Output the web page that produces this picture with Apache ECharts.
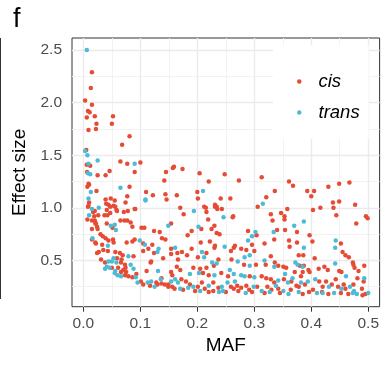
<!DOCTYPE html>
<html>
<head>
<meta charset="utf-8">
<script src="https://cdn.jsdelivr.net/npm/echarts@6/dist/echarts.min.js"></script>
<style>
  html, body { margin: 0; padding: 0; background: #fff; }
  #chart { width: 382px; height: 365px; }
</style>
</head>
<body>
<div id="chart"></div>
<script>
// [MAF, effect size]
var cisPoints = [
  [0.015,2.29],[0.013,2.14],[0.003,2.02],[0.015,1.98],[0.008,1.92],[0.011,1.91],[0.006,1.86],[0.020,1.87],
  [0.052,1.87],[0.023,1.80],[0.050,1.80],[0.009,1.74],[0.022,1.75],[0.081,1.68],[0.068,1.60],[0.005,1.55],
  [0.065,1.44],[0.077,1.42],[0.006,1.41],[0.012,1.40],[0.046,1.35],[0.0065,1.34],[0.025,1.31],[0.039,1.31],
  [0.009,1.23],[0.010,1.22],[0.007,1.20],[0.023,1.16],[0.077,1.11],[0.048,1.09],[0.039,1.08],[0.055,1.07],
  [0.010,1.05],[0.074,1.05],[0.044,1.03],[0.053,1.02],[0.041,0.98],[0.058,0.98],[0.008,1.01],[0.017,0.96],
  [0.071,0.96],[0.047,0.95],[0.019,0.92],[0.037,0.93],[0.020,0.88],[0.022,0.85],[0.007,0.89],[0.025,0.80],
  [0.051,0.81],[0.065,0.88],[0.077,0.88],
  [0.009,1.02],[0.040,1.04],[0.047,1.01],[0.056,1.01],[0.146,1.08],[0.020,0.97],[0.026,0.93],[0.042,0.93],
  [0.059,0.97],[0.078,0.97],[0.090,0.99],[0.015,0.88],[0.021,0.85],[0.041,0.85],[0.072,0.88],[0.083,0.86],
  [0.086,0.82],[0.015,0.80],[0.024,0.82],[0.102,0.81],[0.107,0.81],[0.154,0.85],[0.030,0.75],[0.034,0.73],
  [0.039,0.71],[0.124,0.78],[0.134,0.77],[0.015,0.70],[0.021,0.67],[0.044,0.69],[0.052,0.70],[0.076,0.67],
  [0.086,0.68],[0.090,0.70],[0.138,0.71],[0.144,0.70],[0.022,0.66],[0.033,0.65],[0.053,0.67],[0.121,0.65],
  [0.105,0.66],[0.114,0.61],[0.105,0.59],[0.124,0.57],[0.154,0.61],[0.035,0.60],[0.027,0.58],[0.024,0.57],
  [0.043,0.59],[0.056,0.58],[0.064,0.57],[0.069,0.55],[0.059,0.52],[0.067,0.51],[0.088,0.54],[0.119,0.49],
  [0.118,0.48],[0.140,0.52],[0.154,0.56],[0.031,0.51],[0.038,0.48],[0.066,0.48],[0.073,0.46],[0.050,0.43],
  [0.061,0.43],[0.070,0.41],[0.074,0.43],[0.111,0.40],[0.154,0.39],[0.066,0.39],[0.073,0.36],[0.075,0.39],
  [0.079,0.35],[0.093,0.37],[0.086,0.34],[0.101,0.30],[0.128,0.29],[0.130,0.27],[0.137,0.28],[0.143,0.27],
  [0.149,0.27],[0.137,0.33],[0.156,0.36],[0.149,0.25],[0.156,0.25],
  [0.100,1.43],[0.090,1.34],[0.159,1.39],[0.157,1.38],[0.174,1.37],[0.145,1.34],[0.204,1.33],[0.248,1.32],
  [0.142,1.26],[0.220,1.25],[0.273,1.26],[0.081,1.20],[0.110,1.15],[0.122,1.12],[0.144,1.13],[0.164,1.12],
  [0.200,1.15],[0.201,1.09],[0.241,1.09],[0.258,1.09],[0.215,1.00],[0.231,1.01],[0.170,1.00],[0.176,0.94],
  [0.091,0.99],[0.216,0.96],[0.235,0.99],[0.243,0.99],[0.262,0.91],[0.306,1.01],
  [0.212,1.01],[0.231,1.03],[0.234,1.01],[0.219,0.89],[0.263,0.92],[0.329,0.94],[0.332,0.88],[0.230,0.83],
  [0.225,0.80],[0.190,0.78],[0.183,0.74],[0.207,0.80],[0.234,0.76],[0.239,0.75],[0.304,0.74],[0.289,0.78],
  [0.296,0.65],[0.318,0.66],[0.335,0.70],[0.340,0.79],[0.206,0.67],[0.222,0.68],[0.231,0.64],[0.230,0.62],
  [0.259,0.59],[0.264,0.62],[0.266,0.64],[0.277,0.61],[0.286,0.60],[0.300,0.59],[0.190,0.61],[0.173,0.58],
  [0.165,0.57],[0.182,0.55],[0.216,0.57],[0.201,0.53],[0.237,0.51],[0.229,0.45],[0.260,0.51],[0.282,0.46],
  [0.303,0.46],[0.329,0.54],[0.320,0.46],[0.336,0.48],[0.166,0.51],[0.164,0.44],[0.170,0.41],[0.193,0.43],
  [0.205,0.42],[0.216,0.43],[0.210,0.38],[0.220,0.36],[0.242,0.38],[0.254,0.35],[0.292,0.35],[0.313,0.35],
  [0.321,0.33],[0.329,0.32],[0.172,0.32],[0.180,0.30],[0.187,0.27],[0.201,0.25],[0.208,0.29],[0.213,0.23],
  [0.228,0.29],[0.237,0.24],[0.259,0.25],[0.270,0.26],[0.277,0.24],[0.286,0.26],[0.291,0.22],[0.305,0.25],
  [0.323,0.25],[0.330,0.22],[0.335,0.29],[0.228,0.21],[0.264,0.23],
  [0.313,1.29],[0.361,1.25],[0.368,1.21],[0.336,1.16],[0.393,1.16],[0.405,1.16],[0.400,1.11],[0.430,1.20],
  [0.449,1.23],[0.467,1.24],[0.321,1.10],
  [0.358,0.99],[0.347,0.95],[0.353,0.92],[0.353,0.89],[0.354,0.79],[0.375,0.77],[0.403,0.98],[0.416,1.00],
  [0.438,1.05],[0.439,1.00],[0.449,1.06],[0.444,0.93],[0.477,1.03],[0.479,0.85],[0.496,0.92],[0.499,0.90],
  [0.397,0.74],[0.402,0.68],[0.361,0.69],[0.362,0.63],[0.375,0.67],[0.378,0.55],[0.386,0.55],[0.452,0.66],
  [0.455,0.58],[0.460,0.55],[0.466,0.53],[0.406,0.52],[0.473,0.48],[0.474,0.46],[0.493,0.45],[0.476,0.43],
  [0.483,0.40],[0.481,0.33],[0.492,0.30],[0.342,0.45],[0.351,0.44],[0.356,0.43],[0.380,0.45],[0.387,0.45],
  [0.395,0.41],[0.397,0.39],[0.413,0.42],[0.423,0.44],[0.429,0.41],[0.449,0.40],[0.453,0.39],[0.371,0.39],
  [0.382,0.35],[0.385,0.39],[0.352,0.32],[0.365,0.30],[0.374,0.26],[0.378,0.25],[0.389,0.27],[0.414,0.30],
  [0.420,0.25],[0.426,0.30],[0.436,0.27],[0.443,0.32],[0.447,0.25],[0.457,0.27],[0.460,0.23],[0.474,0.27],
  [0.489,0.23],[0.495,0.18],[0.490,0.17],[0.364,0.22],[0.396,0.20],[0.419,0.20],[0.452,0.19],[0.403,0.22],
  [0.342,0.23],
  [0.105,0.27],[0.117,0.26],[0.160,0.23],[0.175,0.22],[0.196,0.21],[0.220,0.20],[0.250,0.20],[0.272,0.21],
  [0.296,0.20],[0.318,0.19],[0.345,0.19],[0.385,0.18],[0.430,0.18],[0.465,0.18]
];
var transPoints = [
  [0.006,2.50],[0.003,1.54],[0.007,1.50],[0.025,1.45],[0.009,1.42],[0.008,1.33],[0.012,1.32],[0.065,1.19],
  [0.013,1.15],[0.009,1.09],[0.015,0.99],[0.055,0.84],[0.057,0.79],
  [0.027,1.00],[0.109,1.08],[0.010,0.93],[0.048,0.83],[0.149,0.83],[0.016,0.71],[0.099,0.69],[0.043,0.64],
  [0.108,0.65],[0.132,0.61],[0.130,0.58],[0.053,0.52],[0.079,0.54],[0.044,0.49],[0.050,0.49],[0.058,0.48],
  [0.083,0.46],[0.041,0.44],[0.046,0.43],[0.038,0.42],[0.088,0.42],[0.131,0.40],[0.056,0.40],[0.055,0.38],
  [0.060,0.36],[0.066,0.35],[0.092,0.34],[0.095,0.29],[0.113,0.29],[0.119,0.30],[0.136,0.32],[0.154,0.30],
  [0.090,1.42],[0.210,1.16],[0.109,1.07],[0.194,0.97],[0.246,0.91],
  [0.315,1.04],[0.202,0.82],[0.302,0.77],[0.296,0.73],[0.289,0.69],[0.334,0.77],[0.248,0.63],[0.292,0.55],
  [0.161,0.62],[0.208,0.58],[0.212,0.53],[0.226,0.48],[0.234,0.47],[0.271,0.49],[0.283,0.53],[0.292,0.45],
  [0.318,0.50],[0.335,0.44],[0.187,0.37],[0.203,0.38],[0.230,0.36],[0.257,0.41],[0.264,0.37],[0.277,0.36],
  [0.283,0.35],[0.300,0.34],[0.161,0.32],[0.166,0.29],[0.184,0.24],[0.193,0.25],[0.220,0.26],[0.243,0.25],
  [0.253,0.29],[0.266,0.30],[0.299,0.25],[0.313,0.21],[0.338,0.26],[0.245,0.21],
  [0.370,0.83],[0.387,0.87],[0.387,0.62],[0.443,0.69],[0.442,0.62],[0.493,0.33],[0.372,0.48],[0.376,0.46],
  [0.385,0.44],[0.442,0.47],[0.461,0.35],[0.354,0.37],[0.342,0.31],[0.359,0.29],[0.367,0.33],[0.382,0.29],
  [0.394,0.30],[0.407,0.32],[0.431,0.25],[0.453,0.23],[0.468,0.25],[0.475,0.21],[0.351,0.21],[0.378,0.20],
  [0.410,0.19],[0.440,0.19],[0.473,0.19],
  [0.125,0.25],[0.170,0.23],[0.205,0.21],[0.238,0.20],[0.285,0.19],[0.327,0.20],[0.360,0.18],[0.420,0.19],
  [0.480,0.18],[0.500,0.19]
];

var xTicks = [0, 0.1, 0.2, 0.3, 0.4, 0.5];
var xMinor = [0.05, 0.15, 0.25, 0.35, 0.45];
var yTicks = [0.5, 1.0, 1.5, 2.0, 2.5];
var yMinor = [0.25, 0.75, 1.25, 1.75, 2.25];

var FONT = '"Liberation Sans", Arial, Helvetica, sans-serif';
var majorLine = { color: '#ebebeb', width: 1.4, type: 'solid' };
var minorLine = { color: '#f1f1f1', width: 0.9, type: 'solid' };

var gridLines = [];
xMinor.forEach(function(v) { gridLines.push({ xAxis: v, lineStyle: minorLine }); });
yMinor.forEach(function(v) { gridLines.push({ yAxis: v, lineStyle: minorLine }); });
xTicks.forEach(function(v) { gridLines.push({ xAxis: v, lineStyle: majorLine }); });
yTicks.forEach(function(v) { gridLines.push({ yAxis: v, lineStyle: majorLine }); });

var chart = echarts.init(document.getElementById('chart'), null, { renderer: 'canvas' });
chart.setOption({
  animation: false,
  backgroundColor: '#fff',
  textStyle: { fontFamily: FONT },
  grid: {
    left: 72, top: 38, right: 0, bottom: 58.3,
    show: true, backgroundColor: '#fff', borderColor: '#333', borderWidth: 1
  },
  legend: {
    data: ['cis', 'trans'],
    orient: 'vertical',
    left: 273, top: 45,
    padding: [27, 9, 17, 24],
    backgroundColor: '#fff',
    icon: 'circle',
    itemWidth: 4.5, itemHeight: 4.5,
    itemGap: 12,
    selectedMode: false,
    textStyle: { fontFamily: FONT, fontStyle: 'italic', fontSize: 18.5, color: '#000', padding: [0, 0, 0, 12] }
  },
  xAxis: {
    type: 'value', min: -0.02, max: 0.52,
    name: 'MAF', nameLocation: 'middle', nameGap: 29,
    nameTextStyle: { fontFamily: FONT, fontSize: 19, color: '#000' },
    axisLine: { show: false },
    axisTick: { show: true, length: 5, customValues: xTicks, lineStyle: { color: '#333', width: 1 } },
    axisLabel: {
      customValues: xTicks, margin: 9, fontFamily: FONT, fontSize: 15.5, color: '#4d4d4d',
      formatter: function(v) { return v.toFixed(1); }
    },
    splitLine: { show: false }
  },
  yAxis: {
    type: 'value', min: 0.06, max: 2.615,
    name: 'Effect size', nameLocation: 'middle', nameGap: 36, nameRotate: 90,
    nameTextStyle: { fontFamily: FONT, fontSize: 19, color: '#000' },
    axisLine: { show: false },
    axisTick: { show: true, length: 5, customValues: yTicks, lineStyle: { color: '#333', width: 1 } },
    axisLabel: {
      customValues: yTicks, margin: 10, fontFamily: FONT, fontSize: 15.5, color: '#4d4d4d',
      formatter: function(v) { return v.toFixed(1); }
    },
    splitLine: { show: false }
  },
  series: [
    {
      name: 'gridlines', type: 'scatter', data: [], z: 1, silent: true,
      markLine: { silent: true, z: 1, symbol: ['none', 'none'], label: { show: false }, emphasis: { disabled: true }, data: gridLines }
    },
    {
      name: 'cis', type: 'scatter', data: cisPoints, z: 3,
      symbolSize: 4.5, itemStyle: { color: '#E64B35', opacity: 1 }
    },
    {
      name: 'trans', type: 'scatter', data: transPoints, z: 3,
      symbolSize: 4.5, itemStyle: { color: '#4DBBD5', opacity: 1 }
    }
  ],
  graphic: [
    { type: 'text', left: 13, top: 6, style: { text: 'f', font: '27px ' + FONT, fill: '#000' } },
    { type: 'line', shape: { x1: 0.5, y1: 38, x2: 0.5, y2: 299 }, style: { stroke: '#333', lineWidth: 1 } }
  ]
});
</script>
</body>
</html>
